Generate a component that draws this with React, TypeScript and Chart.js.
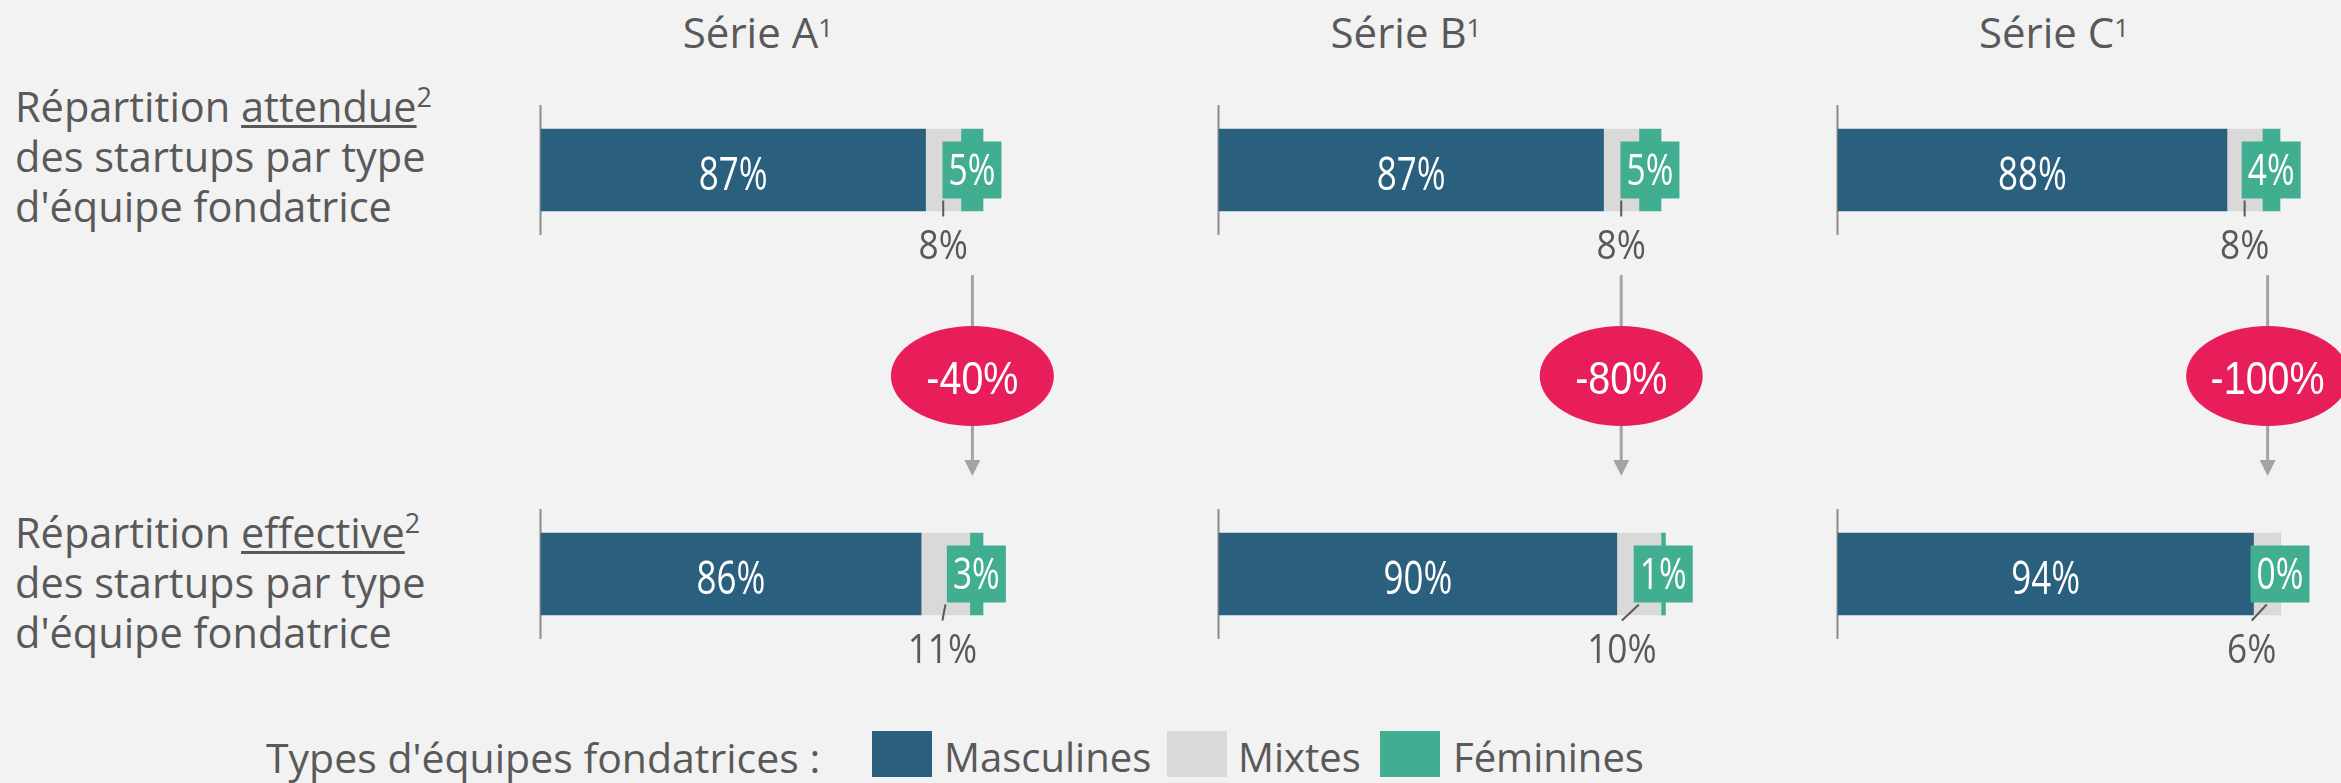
import React, { useEffect, useRef } from "react";
import { Chart, registerables } from "chart.js";

Chart.register(...registerables);

// ---------- data ----------
const SERIES = ["Série A", "Série B", "Série C"];
const SEGMENTS = ["Masculines", "Mixtes", "Féminines"];
const EXPECTED_MASCULINES = [87, 87, 88];
const EXPECTED_MIXTES = [8, 8, 8];
const EXPECTED_FEMININES = [5, 5, 4];
const ACTUAL_MASCULINES = [86, 90, 94];
const ACTUAL_MIXTES = [11, 10, 6];
const ACTUAL_FEMININES = [3, 1, 0];
const CHANGE = [-40, -80, -100];
const ROW_TEXT_TOP = ["attendue", "effective"];
const LEGEND_TITLE = "Types d'équipes fondatrices :";

// ---------- style / layout ----------
const COLORS = ["#2a5f7e", "#d9d9d9", "#41ae92"];
const BG = "#f2f2f2";
const TEXT = "#595959";
const PINK = "#e81e5a";
const ARROW = "#a3a3a3";
const PLOT_LEFT = [541, 1219, 1838];
const PLOT_W = 442;
const TITLE_CENTER = [758, 1406, 2054];
const ARROW_AT = [97.6, 91.0, 97.2]; // position on the value axis
const MIX_SHIFT = [
  [0, 0, 0],
  [-3, -17, -15],
];
const ROWS = [
  { canvasTop: 95, padTop: 10, height: 395 },
  { canvasTop: 495, padTop: 14, height: 185 },
];
const AREA_H = 130;
const PAD_L = 10;
const CANVAS_W = 600;

const FONT = "'Open Sans', sans-serif";

function scaledText(
  ctx: CanvasRenderingContext2D,
  text: string,
  x: number,
  y: number,
  font: string,
  color: string,
  sx: number
) {
  ctx.save();
  ctx.translate(x, y);
  ctx.scale(sx, 1);
  ctx.font = font;
  ctx.fillStyle = color;
  ctx.textAlign = "center";
  ctx.textBaseline = "alphabetic";
  ctx.fillText(text, 0, 0);
  ctx.restore();
}

function makePlugin(row: number, col: number) {
  const top = ROWS[row].canvasTop;
  return {
    id: "panelDecor" + row + col,
    beforeDatasetsDraw(chart: any) {
      const { ctx, chartArea } = chart;
      const x0 = chart.scales.x.getPixelForValue(0);
      ctx.save();
      ctx.strokeStyle = "#8c8c8c";
      ctx.lineWidth = 2;
      ctx.beginPath();
      ctx.moveTo(x0 - 0.5, chartArea.top);
      ctx.lineTo(x0 - 0.5, chartArea.bottom);
      ctx.stroke();
      ctx.restore();
    },
    afterDatasetsDraw(chart: any) {
      const ctx: CanvasRenderingContext2D = chart.ctx;
      const xs = chart.scales.x;
      const segs = [0, 1, 2].map((i) => {
        const el = chart.getDatasetMeta(i).data[0];
        const p = el.getProps(["x", "y", "base", "height"], true);
        return {
          start: Math.min(p.x, p.base),
          end: Math.max(p.x, p.base),
          y: p.y,
          h: p.height,
          v: chart.data.datasets[i].data[0] as number,
        };
      });
      // masculines label
      const m = segs[0];
      scaledText(ctx, m.v + "%", (m.start + m.end) / 2, m.y + 19.5, `46px ${FONT}`, "#ffffff", 0.76);
      // mixtes label below with leader line
      const mx = segs[1];
      const cx = (mx.start + mx.end) / 2;
      const lx = cx + MIX_SHIFT[row][col];
      const bottom = mx.y + mx.h / 2;
      ctx.save();
      ctx.strokeStyle = TEXT;
      ctx.lineWidth = 2;
      ctx.beginPath();
      ctx.moveTo(cx, bottom - 10.5);
      ctx.lineTo(lx, bottom + 5.5);
      ctx.stroke();
      ctx.restore();
      scaledText(ctx, mx.v + "%", lx, bottom + 47.5, `41px ${FONT}`, TEXT, 0.86);
      // feminines box
      const f = segs[2];
      const fx = (f.start + f.end) / 2;
      ctx.save();
      ctx.fillStyle = COLORS[2];
      ctx.fillRect(fx - 29.5, f.y - 28.5, 59, 57);
      ctx.restore();
      scaledText(ctx, f.v + "%", fx, f.y + 14.5, `44px ${FONT}`, "#ffffff", 0.76);

      if (row === 0) {
        const ax = xs.getPixelForValue(ARROW_AT[col]);
        ctx.save();
        ctx.strokeStyle = ARROW;
        ctx.lineWidth = 3;
        ctx.beginPath();
        ctx.moveTo(ax, 275 - top);
        ctx.lineTo(ax, 462 - top);
        ctx.stroke();
        ctx.fillStyle = ARROW;
        ctx.beginPath();
        ctx.moveTo(ax - 8, 460 - top);
        ctx.lineTo(ax + 8, 460 - top);
        ctx.lineTo(ax, 476 - top);
        ctx.closePath();
        ctx.fill();
        ctx.fillStyle = PINK;
        ctx.beginPath();
        ctx.ellipse(ax, 376 - top, 81.5, 50, 0, 0, Math.PI * 2);
        ctx.fill();
        ctx.restore();
        scaledText(ctx, CHANGE[col] + "%", ax, 394 - top, `47px 'Liberation Sans', Arial, sans-serif`, "#ffffff", 0.84);
      }
    },
  };
}

function makeConfig(row: number, col: number): any {
  const vals =
    row === 0
      ? [EXPECTED_MASCULINES[col], EXPECTED_MIXTES[col], EXPECTED_FEMININES[col]]
      : [ACTUAL_MASCULINES[col], ACTUAL_MIXTES[col], ACTUAL_FEMININES[col]];
  const r = ROWS[row];
  return {
    type: "bar",
    data: {
      labels: [SERIES[col]],
      datasets: SEGMENTS.map((name, i) => ({
        label: name,
        data: [vals[i]],
        backgroundColor: COLORS[i],
        borderWidth: 0,
        barThickness: 82,
        clip: false,
      })),
    },
    options: {
      indexAxis: "y",
      responsive: false,
      animation: false,
      events: [],
      layout: {
        padding: {
          left: PAD_L,
          right: CANVAS_W - PAD_L - PLOT_W,
          top: r.padTop,
          bottom: r.height - r.padTop - AREA_H,
        },
      },
      scales: {
        x: { stacked: true, min: 0, max: 100, display: false },
        y: { stacked: true, display: false },
      },
      plugins: { legend: { display: false }, tooltip: { enabled: false }, title: { display: false } },
    },
    plugins: [makePlugin(row, col)],
  };
}

const sup = (t: string, size: number, raise: number) => (
  <span style={{ fontSize: size, position: "relative", top: -raise, lineHeight: 0 }}>{t}</span>
);

export default function App() {
  const refs = useRef<(HTMLCanvasElement | null)[]>([]);

  useEffect(() => {
    let cancelled = false;
    const charts: Chart[] = [];
    const build = () => {
      if (cancelled) return;
      for (let row = 0; row < 2; row++) {
        for (let col = 0; col < 3; col++) {
          const c = refs.current[row * 3 + col];
          if (c) charts.push(new Chart(c, makeConfig(row, col)));
        }
      }
    };
    const fonts: any = (document as any).fonts;
    if (fonts && fonts.load) {
      Promise.all([
        fonts.load(`46px 'Open Sans'`),
        fonts.load(`47px 'Liberation Sans'`),
      ]).then(build, build);
    } else build();
    return () => {
      cancelled = true;
      charts.forEach((c) => c.destroy());
    };
  }, []);

  const rowLabel = (word: string, top: number) => (
    <div
      style={{
        position: "absolute",
        left: 15,
        top,
        fontSize: 41.5,
        lineHeight: "50px",
        color: TEXT,
        whiteSpace: "nowrap",
      }}
    >
      Répartition{" "}
      <span style={{ textDecoration: "underline", textDecorationThickness: "3px", textUnderlineOffset: "3px" }}>
        {word}
      </span>
      {sup("2", 27, 15)}
      <br />
      des startups par type
      <br />
      d'équipe fondatrice
    </div>
  );

  const legendSquares = [
    { sq: 872, tx: 944 },
    { sq: 1167, tx: 1238 },
    { sq: 1380, tx: 1453 },
  ];

  return (
    <div
      style={{
        position: "fixed",
        left: 0,
        top: 0,
        width: 2341,
        height: 783,
        background: BG,
        overflow: "hidden",
        fontFamily: FONT,
      }}
    >
      {SERIES.map((s, i) => (
        <div
          key={s}
          style={{
            position: "absolute",
            left: TITLE_CENTER[i] - 200,
            width: 400,
            top: 11,
            textAlign: "center",
            fontSize: 42,
            lineHeight: "42px",
            color: TEXT,
            whiteSpace: "nowrap",
          }}
        >
          {s}
          {sup("1", 26, 11)}
        </div>
      ))}
      {rowLabel(ROW_TEXT_TOP[0], 81)}
      {rowLabel(ROW_TEXT_TOP[1], 506.5)}
      {[0, 1].map((row) =>
        [0, 1, 2].map((col) => (
          <canvas
            key={row + "-" + col}
            ref={(el) => {
              refs.current[row * 3 + col] = el;
            }}
            width={CANVAS_W}
            height={ROWS[row].height}
            style={{
              position: "absolute",
              left: PLOT_LEFT[col] - PAD_L,
              top: ROWS[row].canvasTop,
              width: CANVAS_W,
              height: ROWS[row].height,
            }}
          />
        ))
      )}
      <div
        style={{
          position: "absolute",
          left: 266,
          top: 731.5,
          fontSize: 41,
          lineHeight: "50px",
          color: TEXT,
          whiteSpace: "nowrap",
        }}
      >
        {LEGEND_TITLE}
      </div>
      {SEGMENTS.map((s, i) => (
        <React.Fragment key={s}>
          <div
            style={{
              position: "absolute",
              left: legendSquares[i].sq,
              top: 731,
              width: 60,
              height: 46,
              background: COLORS[i],
            }}
          />
          <div
            style={{
              position: "absolute",
              left: legendSquares[i].tx,
              top: 731.5,
              fontSize: 40,
              lineHeight: "50px",
              color: TEXT,
              whiteSpace: "nowrap",
            }}
          >
            {s}
          </div>
        </React.Fragment>
      ))}
    </div>
  );
}
